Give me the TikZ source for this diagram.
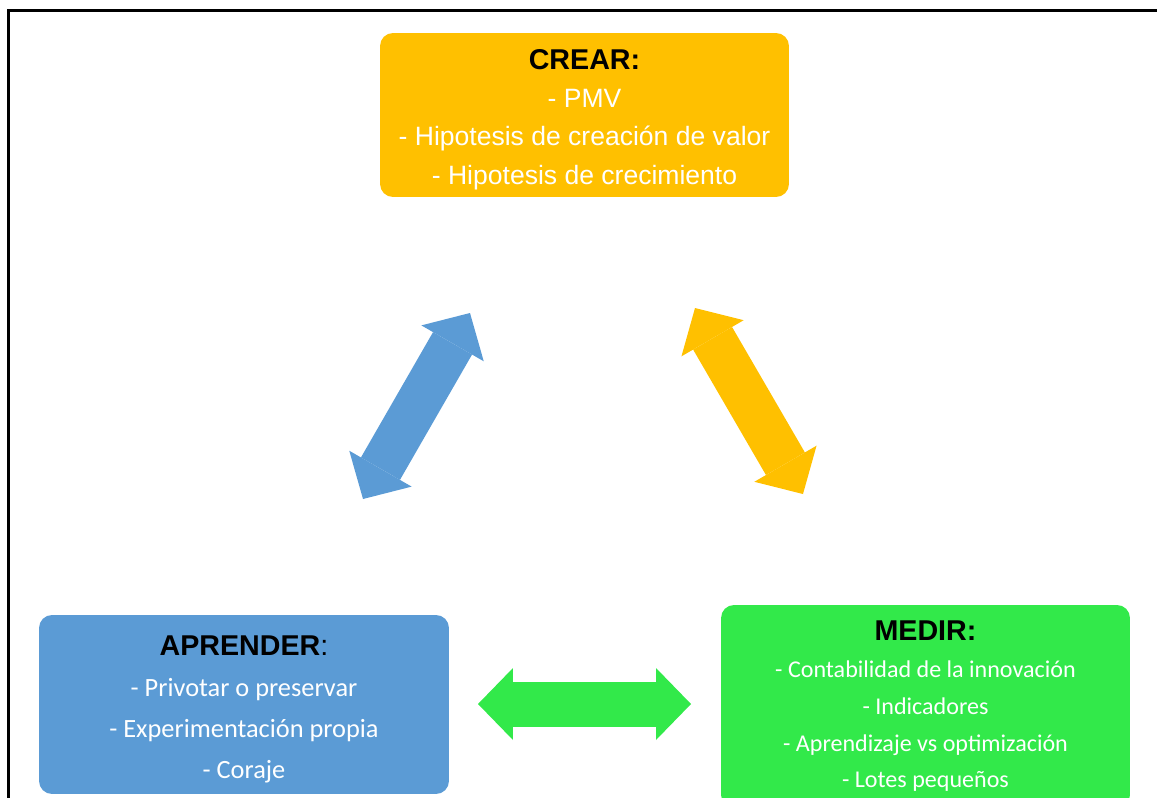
\documentclass[tikz,border=0pt]{standalone}
\usepackage{fontspec}
\setmainfont{Liberation Sans}
\newfontfamily\calibri{Carlito}
\usetikzlibrary{arrows.meta,positioning}
\definecolor{gold}{RGB}{255,192,0}
\definecolor{steelblue}{RGB}{91,155,213}
\definecolor{brightgreen}{RGB}{50,233,74}
\newcommand{\boxtitle}[1]{{\color{black}\rmfamily\fontsize{16.3}{19}\selectfont\bfseries #1}}
\newcommand{\titlestrut}{\rule{0pt}{0.58cm}}

\begin{document}
\begin{tikzpicture}[x=0.02cm, y=-0.02cm,
            box/.style={rectangle, rounded corners=0.26cm, text=white, align=center, inner sep=0pt},
            dblarrow/.style={line width=0.9cm, {Triangle[length=0.7cm, width=1.44cm, line width=0pt]}-{Triangle[length=0.7cm, width=1.44cm, line width=0pt]}}
        ]
        \clip (0,0) rectangle (1157,798);
        \useasboundingbox (0,0) rectangle (1157,798);
        \draw[line width=0.06cm] (8.8,830) |- (1180,10.8);

        \node[box, fill=gold, minimum width=8.18cm, minimum height=3.28cm,
              font=\fontsize{15.1}{21.9}\selectfont] (crear) at (584.5,115)
              {\titlestrut\boxtitle{CREAR:}\\- PMV\\- Hipotesis de creación de valor\\- Hipotesis de crecimiento};
        \node[box, fill=steelblue, minimum width=8.2cm, minimum height=3.58cm,
              font=\calibri\fontsize{15}{23.3}\selectfont] (aprender) at (244,704.5)
              {\titlestrut\boxtitle{APRENDER}{\color{black}\rmfamily\fontsize{16.3}{19}\selectfont :}\\- Privotar o preservar\\- Experimentación propia\\- Coraje};
        \node[box, fill=brightgreen, minimum width=8.18cm, minimum height=4.06cm,
              font=\calibri\fontsize{13.7}{20.9}\selectfont] (medir) at (925.5,706.5)
              {\boxtitle{MEDIR:}\\- Contabilidad de la innovación\\- Indicadores\\- Aprendizaje vs optimización\\- Lotes pequeños};

        % Flechas del ciclo
        \coordinate (a1) at (363,499);
        \coordinate (a2) at (470,313);
        \coordinate (b1) at (695,308);
        \coordinate (b2) at (803,494);
        \coordinate (c1) at (478,704);
        \coordinate (c2) at (691,704);
        \draw[dblarrow, steelblue] (a1) -- (a2);
        \draw[dblarrow, gold] (b1) -- (b2);
        \draw[dblarrow, brightgreen] (c1) -- (c2);
\end{tikzpicture}
\end{document}
